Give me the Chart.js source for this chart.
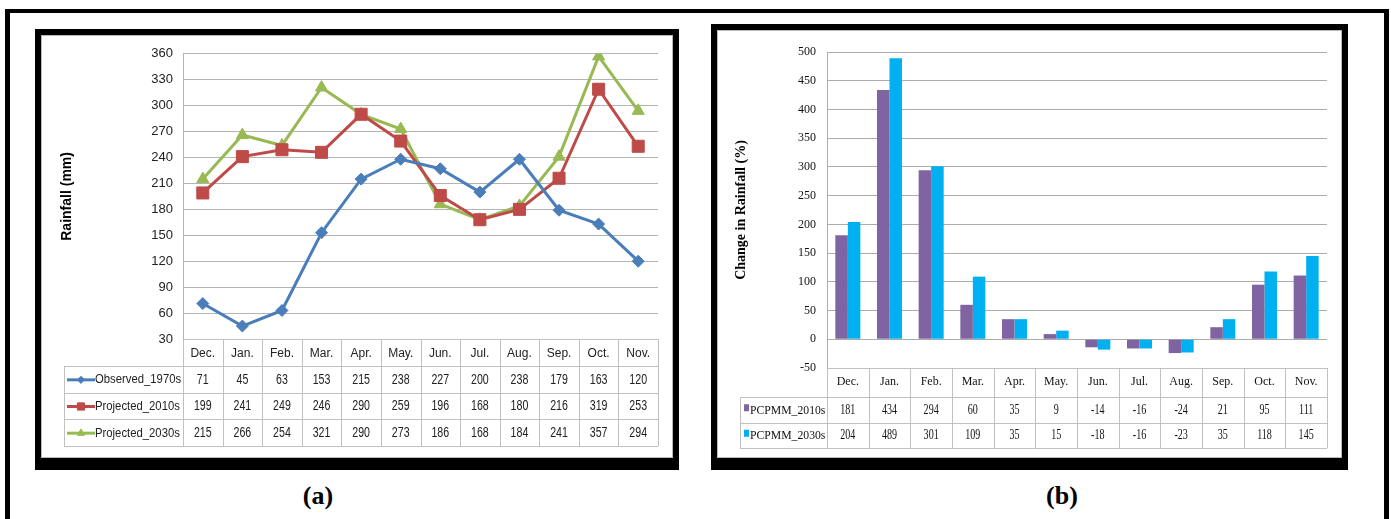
<!DOCTYPE html>
<html>
<head>
<meta charset="utf-8">
<script src="https://cdn.jsdelivr.net/npm/chart.js@4"></script>
<style>
  body { margin:0; background:#fff; width:1391px; height:519px; overflow:hidden; position:relative; }
  .frame { position:absolute; left:5px; top:9px; width:1384px; height:540px; border:5px solid #000; border-top-width:4px; box-sizing:border-box; }
  .panel { position:absolute; border:6px solid #000; border-bottom-width:12px; box-sizing:border-box; background:#fff; }
  #boxA { left:35px; top:29px; width:644px; height:441px; }
  #boxB { left:711px; top:24px; width:637px; height:446px; }
  .inner { position:absolute; left:0; top:0; right:0; bottom:0; border:1px solid #b8b8b8; }
  .inner canvas { position:absolute; left:0; top:0; }
  .cap { position:absolute; top:481px; font:bold 26px 'Liberation Serif', serif; transform:translateX(-50%); color:#000; }
</style>
</head>
<body>
<div class="frame"></div>
<div class="panel" id="boxA"><div class="inner"><canvas id="chartA" width="630" height="421"></canvas></div></div>
<div class="panel" id="boxB"><div class="inner"><canvas id="chartB" width="623" height="426"></canvas></div></div>
<div class="cap" style="left:318px">(a)</div>
<div class="cap" style="left:1062px">(b)</div>

<script>
// ── DATA ──
const MONTHS = ['Dec.','Jan.','Feb.','Mar.','Apr.','May.','Jun.','Jul.','Aug.','Sep.','Oct.','Nov.'];

const OBSERVED_1970S  = [71, 45, 63, 153, 215, 238, 227, 200, 238, 179, 163, 120];
const PROJECTED_2010S = [199, 241, 249, 246, 290, 259, 196, 168, 180, 216, 319, 253];
const PROJECTED_2030S = [215, 266, 254, 321, 290, 273, 186, 168, 184, 241, 357, 294];
const RAIN_MIN = 30, RAIN_MAX = 360, RAIN_STEP = 30;

const PCPMM_2010S = [181, 434, 294, 60, 35, 9, -14, -16, -24, 21, 95, 111];
const PCPMM_2030S = [204, 489, 301, 109, 35, 15, -18, -16, -23, 35, 118, 145];
const CHANGE_MIN = -50, CHANGE_MAX = 500, CHANGE_STEP = 50;

// ── STYLE ──
const GRID = '#b4b4b4';
const TABLE_LINE = '#c0c0c0';
const SANS = "'Liberation Sans', sans-serif";
const SERIF = "'Liberation Serif', serif";

// horizontally squeezed text, the source picture is a bit condensed
function narrowText(ctx, text, x, y, sx, align) {
  ctx.save();
  ctx.translate(x, y);
  ctx.scale(sx, 1);
  ctx.textAlign = align;
  ctx.fillText(text, 0, 0);
  ctx.restore();
}

// ── DATA TABLE PLUGIN ──
// draws the Excel-like data table under the plot, columns taken from the x scale
function dataTable(cfg) {
  return {
    id: 'dataTable',
    afterDraw(chart) {
      const { ctx, chartArea, scales: { x } } = chart;
      const n = chart.data.labels.length;
      const colW = x.getPixelForValue(1) - x.getPixelForValue(0);
      const colLeft = x.getPixelForValue(0) - colW / 2;
      const colRight = x.getPixelForValue(n - 1) + colW / 2;
      const top = chartArea.bottom;
      const bodyTop = top + cfg.headH;
      const rows = chart.data.datasets.length;
      const bottom = bodyTop + rows * cfg.rowH;

      ctx.save();
      ctx.strokeStyle = TABLE_LINE;
      ctx.lineWidth = 1;
      ctx.beginPath();
      // horizontals
      ctx.moveTo(colLeft, Math.round(top) + 0.5); ctx.lineTo(colRight, Math.round(top) + 0.5);
      for (let r = 0; r <= rows; r++) {
        const y = Math.round(bodyTop + r * cfg.rowH) + 0.5;
        ctx.moveTo(cfg.left, y); ctx.lineTo(colRight, y);
      }
      // verticals
      for (let i = 0; i <= n; i++) {
        const xx = Math.round(colLeft + i * colW) + 0.5;
        ctx.moveTo(xx, top); ctx.lineTo(xx, bottom);
      }
      ctx.moveTo(cfg.left + 0.5, bodyTop); ctx.lineTo(cfg.left + 0.5, bottom);
      ctx.stroke();

      ctx.textBaseline = 'middle';
      chart.data.datasets.forEach((ds, r) => {
        const cy = bodyTop + (r + 0.5) * cfg.rowH + 0.5;
        cfg.drawKey(ctx, ds, cfg.left, cy);
        ctx.fillStyle = cfg.color;
        ctx.font = cfg.nameFont;
        narrowText(ctx, ds.label, cfg.left + cfg.keyW, cy, cfg.nameSx, 'left');
        ctx.font = cfg.numFont;
        ds.data.forEach((v, i) => {
          narrowText(ctx, String(v), x.getPixelForValue(i), cy, cfg.numSx, 'center');
        });
      });
      ctx.restore();
    }
  };
}

// ── CHART (a) ──
const lineDs = (label, data, color, style, radius) => ({
  label, data,
  borderColor: color, backgroundColor: color,
  pointBackgroundColor: color, pointBorderColor: color,
  borderWidth: 3, pointStyle: style, pointRadius: radius, pointBorderWidth: 1,
  tension: 0, fill: false,
});

new Chart(document.getElementById('chartA'), {
  type: 'line',
  data: {
    labels: MONTHS,
    datasets: [
      lineDs('Observed_1970s',  OBSERVED_1970S,  '#4a7ebb', 'rectRot', 6),
      lineDs('Projected_2010s', PROJECTED_2010S, '#be4b48', 'rect', 8.5),
      lineDs('Projected_2030s', PROJECTED_2030S, '#98b954', 'triangle', 7),
    ]
  },
  options: {
    responsive: false, animation: false,
    layout: { padding: { left: 0, top: 17, right: 14, bottom: 11 } },
    plugins: { legend: { display: false }, tooltip: { enabled: false } },
    scales: {
      x: {
        offset: true,
        grid: { display: false, drawTicks: false },
        border: { display: false },
        ticks: { color: '#222', font: { family: SANS, size: 12 }, padding: 7, autoSkip: false, maxRotation: 0 },
        afterFit: s => { s.height = 107; },
      },
      y: {
        min: RAIN_MIN, max: RAIN_MAX,
        grid: { color: GRID, drawTicks: false },
        border: { display: true, color: GRID },
        ticks: { stepSize: RAIN_STEP, color: '#222', font: { family: SANS, size: 13 }, padding: 10 },
        title: { display: true, text: 'Rainfall (mm)', color: '#000',
                 font: { family: SANS, size: 14, weight: 'bold' }, padding: { top: 17, bottom: 0 } },
        afterFit: s => { s.width = 141; },
      }
    }
  },
  plugins: [dataTable({
    left: 22, headH: 27, rowH: 80 / 3, keyW: 31,
    nameFont: `13px ${SANS}`, numFont: `14px ${SANS}`, color: '#222', nameSx: 0.87, numSx: 0.76,
    drawKey(ctx, ds, left, cy) {
      ctx.strokeStyle = ds.borderColor; ctx.lineWidth = 3;
      ctx.beginPath(); ctx.moveTo(left + 3, cy); ctx.lineTo(left + 31, cy); ctx.stroke();
      ctx.fillStyle = ds.borderColor; ctx.lineWidth = 1;
      Chart.helpers.drawPoint(ctx, { pointStyle: ds.pointStyle, radius: ds.pointRadius * 0.6, rotation: 0, borderWidth: 1 }, left + 17, cy);
    }
  })]
});

// ── CHART (b) ──
new Chart(document.getElementById('chartB'), {
  type: 'bar',
  data: {
    labels: MONTHS,
    datasets: [
      { label: 'PCPMM_2010s', data: PCPMM_2010S, backgroundColor: '#8064a2' },
      { label: 'PCPMM_2030s', data: PCPMM_2030S, backgroundColor: '#00b0f0' },
    ]
  },
  options: {
    responsive: false, animation: false,
    datasets: { bar: { barPercentage: 1, categoryPercentage: 0.6 } },
    layout: { padding: { left: 0, top: 21, right: 14, bottom: 9 } },
    plugins: { legend: { display: false }, tooltip: { enabled: false } },
    scales: {
      x: {
        grid: { display: false, drawTicks: false },
        border: { display: false },
        ticks: { color: '#111', font: { family: SERIF, size: 12 }, padding: 7, autoSkip: false, maxRotation: 0 },
        afterFit: s => { s.height = 80; },
      },
      y: {
        min: CHANGE_MIN, max: CHANGE_MAX,
        grid: { color: '#ababab', drawTicks: false },
        border: { display: true, color: '#ababab' },
        ticks: { stepSize: CHANGE_STEP, color: '#111', font: { family: SERIF, size: 12 }, padding: 11 },
        title: { display: true, text: 'Change in Rainfall (%)', color: '#000',
                 font: { family: SERIF, size: 14, weight: 'bold' }, padding: { top: 15, bottom: 0 } },
        afterFit: s => { s.width = 109; },
      }
    }
  },
  plugins: [dataTable({
    left: 22, headH: 29, rowH: 25.5, keyW: 10,
    nameFont: `13px ${SERIF}`, numFont: `14px ${SERIF}`, color: '#111', nameSx: 0.9, numSx: 0.72,
    drawKey(ctx, ds, left, cy) {
      ctx.fillStyle = ds.backgroundColor;
      ctx.fillRect(left + 4, cy - 6, 5, 7);
    }
  })]
});
</script>
</body>
</html>
